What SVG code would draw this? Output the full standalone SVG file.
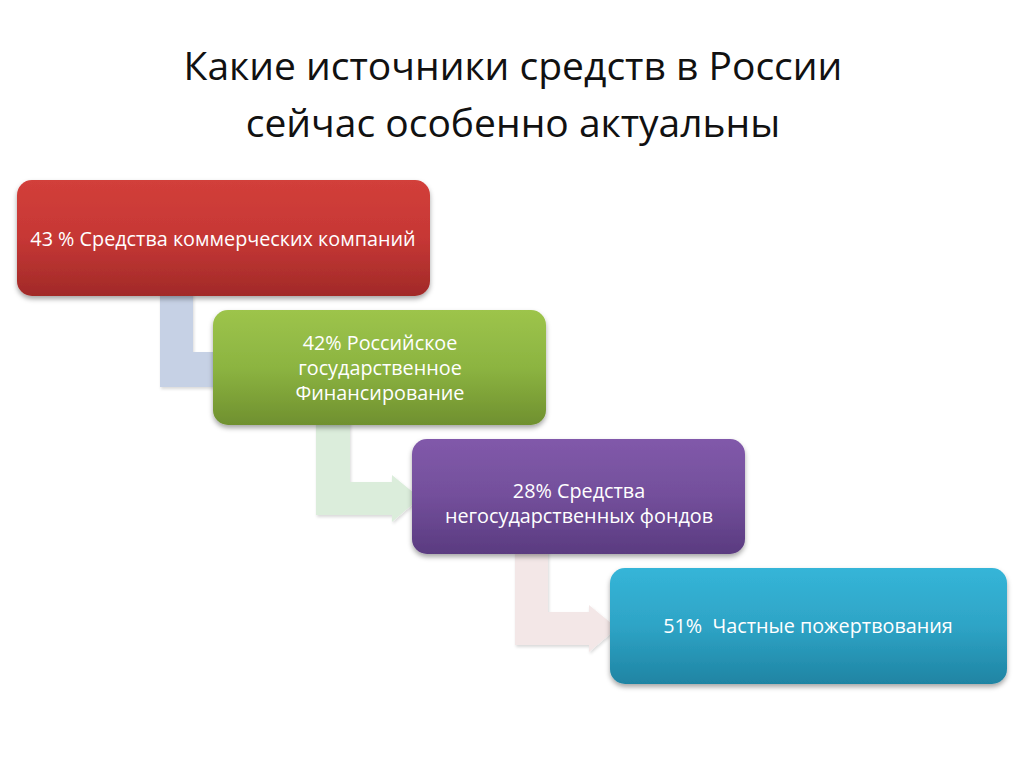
<svg xmlns="http://www.w3.org/2000/svg" width="1024" height="767" viewBox="0 0 1024 767">
<defs>
<linearGradient id="gRed" x1="0" y1="0" x2="0" y2="1"><stop offset="0" stop-color="#d23f3a"/><stop offset="0.5" stop-color="#c63735"/><stop offset="1" stop-color="#a12a28"/></linearGradient>
<linearGradient id="gGreen" x1="0" y1="0" x2="0" y2="1"><stop offset="0" stop-color="#9dc44b"/><stop offset="0.5" stop-color="#8cb441"/><stop offset="1" stop-color="#6f902f"/></linearGradient>
<linearGradient id="gPurple" x1="0" y1="0" x2="0" y2="1"><stop offset="0" stop-color="#8159aa"/><stop offset="0.5" stop-color="#734f9b"/><stop offset="1" stop-color="#5a3b80"/></linearGradient>
<linearGradient id="gBlue" x1="0" y1="0" x2="0" y2="1"><stop offset="0" stop-color="#35b5d8"/><stop offset="0.5" stop-color="#2ea4c6"/><stop offset="1" stop-color="#1f84a3"/></linearGradient>
<filter id="sh" x="-10%" y="-10%" width="120%" height="130%"><feDropShadow dx="0" dy="3" stdDeviation="2.5" flood-color="#000" flood-opacity="0.35"/></filter>
<filter id="sh2" x="-10%" y="-10%" width="130%" height="130%"><feDropShadow dx="1" dy="2" stdDeviation="1.5" flood-color="#000" flood-opacity="0.15"/></filter>
</defs>
<style>
.title{font-family:"Open Sans","Noto Sans",sans-serif;font-size:39px;fill:#111;text-anchor:middle}
.lbl{font-family:"Open Sans","Noto Sans",sans-serif;font-size:19.8px;fill:#fff;text-anchor:middle}
</style>
<rect width="1024" height="767" fill="#fff"/>
<g id="title">
<text class="title" x="513" y="80">Какие источники средств в России</text>
<text class="title" x="513" y="137">сейчас особенно актуальны</text>
</g>
<g id="connectors">
<path d="M160 290 H193 V352 H235 V345 L260 369 L235 393 V387 H160 Z" fill="#c6d1e5" filter="url(#sh2)"/>
<path d="M316 420 H350 V482 H392 V475 L420 498 L392 522 V515 H316 Z" fill="#dbeddb" filter="url(#sh2)"/>
<path d="M515 550 H548 V612 H589 V605 L617 628 L589 652 V645 H515 Z" fill="#f3e7e7" filter="url(#sh2)"/>
</g>
<g id="node1">
<rect x="17" y="180" width="413" height="116" rx="15" fill="url(#gRed)" filter="url(#sh)"/>
<text class="lbl" x="223" y="246">43 % Средства коммерческих компаний</text>
</g>
<g id="node2">
<rect x="213" y="310" width="333" height="115" rx="15" fill="url(#gGreen)" filter="url(#sh)"/>
<text class="lbl" x="380" y="350">42% Российское</text>
<text class="lbl" x="380" y="375">государственное</text>
<text class="lbl" x="380" y="400">Финансирование</text>
</g>
<g id="node3">
<rect x="412" y="439" width="333" height="115" rx="15" fill="url(#gPurple)" filter="url(#sh)"/>
<text class="lbl" x="579" y="498">28% Средства</text>
<text class="lbl" x="579" y="523">негосударственных фондов</text>
</g>
<g id="node4">
<rect x="610" y="568" width="397" height="116" rx="15" fill="url(#gBlue)" filter="url(#sh)"/>
<text class="lbl" x="808" y="633" xml:space="preserve">51%  Частные пожертвования</text>
</g>
</svg>
